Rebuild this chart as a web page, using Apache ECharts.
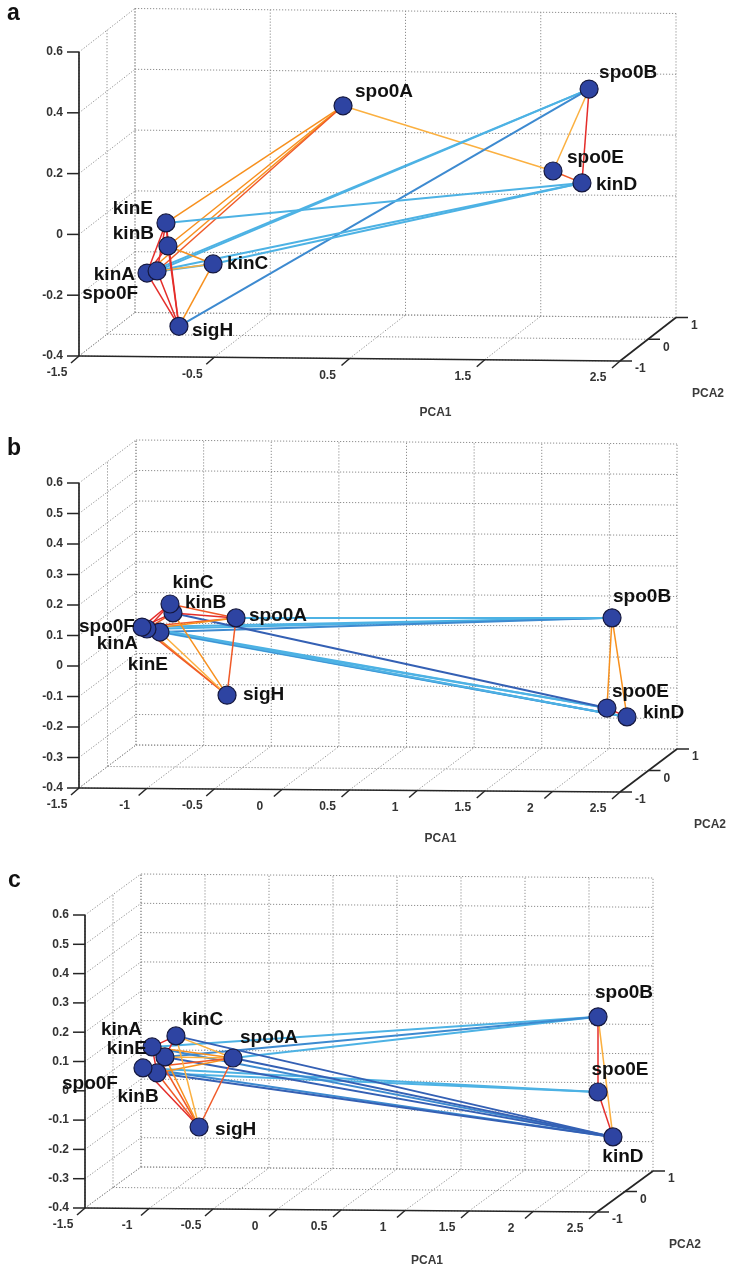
<!DOCTYPE html>
<html>
<head>
<meta charset="utf-8">
<script src="https://cdn.jsdelivr.net/npm/echarts@6/dist/echarts.min.js"></script>
<style>
html,body{margin:0;padding:0;background:#fff;}
#chart{width:730px;height:1270px;}
</style>
</head>
<body>
<div id="chart"></div>
<script>
// ---------------- DATA ----------------
const nodeNames = ['spo0A','spo0B','spo0E','kinD','kinE','kinB','kinA','spo0F','kinC','sigH'];

// panel a  (PCA1, PCA2, PCA3 per node, same order as nodeNames)
const pca1A = [0.183, 1.961, 1.839, 1.991, -1.064, -1.070, -1.163, -1.109, -0.757, -0.906];
const pca2A = [0.3, 0.5, -0.2, 0.1, 0.0, 0.1, -0.2, -0.1, 0.2, -0.3];
const pca3A = [0.337, 0.385, 0.165, 0.105, -0.032, -0.115, -0.183, -0.183, -0.180, -0.350];

// panel b
const pca1B = [-0.613, 2.125, 2.235, 2.320, -1.112, -1.037, -1.166, -1.224, -1.080, -0.553];
const pca2B = [0.3, 0.5, -0.2, 0.1, 0.0, 0.1, -0.2, -0.1, 0.2, -0.3];
const pca3B = [0.069, 0.064, -0.182, -0.232, 0.042, 0.098, 0.066, 0.065, 0.120, -0.142];

// panel c
const pca1C = [-0.628, 2.180, 2.333, 2.384, -1.094, -1.178, -1.151, -1.244, -1.052, -0.762];
const pca2C = [0.3, 0.5, -0.2, 0.1, 0.0, 0.1, -0.2, -0.1, 0.2, -0.3];
const pca3C = [0.024, 0.160, -0.047, -0.221, 0.047, -0.015, 0.095, 0.016, 0.105, -0.170];

// edges: [source, target, colour class 0..6 (red -> dark blue)]
const edgesA = [
  ['spo0A','kinE',2],['spo0A','kinB',2],['spo0A','kinA',2],['spo0A','spo0F',1],
  ['spo0A','spo0E',3],['spo0B','spo0E',3],['spo0B','kinD',0],['spo0E','kinD',1],
  ['spo0B','kinA',4],['spo0B','spo0F',4],['spo0B','sigH',5],
  ['kinD','kinE',4],['kinD','kinC',4],['kinD','kinA',4],
  ['kinA','kinC',4],['kinB','kinC',2],['spo0F','kinC',3],['sigH','kinC',2],
  ['kinE','kinA',0],['kinE','spo0F',0],['kinE','sigH',0],['kinB','sigH',0],
  ['kinA','sigH',0],['spo0F','sigH',0],['kinB','kinA',0],['kinE','kinB',0]
];
const edgesB = [
  ['spo0F','spo0B',4],['kinA','spo0B',4],['kinE','spo0B',5],['spo0A','spo0B',4],
  ['spo0F','spo0E',4],['kinA','spo0E',4],['kinE','kinD',4],['kinA','kinD',5],
  ['kinB','spo0E',6],['spo0F','kinD',4],
  ['spo0B','spo0E',2],['spo0B','kinD',2],['spo0E','kinD',0],
  ['spo0A','kinB',0],['spo0A','spo0F',1],['spo0A','kinA',2],['spo0A','kinC',1],['spo0A','sigH',1],
  ['sigH','kinA',2],['sigH','spo0F',1],['sigH','kinE',3],['sigH','kinB',2],
  ['kinC','spo0F',0],['kinB','spo0F',0],['kinC','kinA',0],['kinB','kinA',1]
];
const edgesC = [
  ['spo0A','spo0B',4],['kinA','spo0B',4],['kinE','spo0B',5],
  ['kinB','spo0E',4],['spo0F','spo0E',4],
  ['kinC','kinD',6],['kinA','kinD',5],['kinE','kinD',6],['spo0F','kinD',5],['kinB','kinD',6],['spo0A','kinD',6],
  ['spo0B','spo0E',0],['spo0E','kinD',0],['spo0B','kinD',3],
  ['spo0A','kinA',2],['spo0A','kinE',3],['spo0A','kinB',2],['spo0A','spo0F',1],['spo0A','kinC',3],['spo0A','sigH',1],
  ['sigH','kinA',1],['sigH','kinE',2],['sigH','spo0F',0],['sigH','kinB',1],['sigH','kinC',3],
  ['kinC','kinA',0],['kinC','kinE',0],['kinA','kinB',0]
];

// tick values / labels
const pca1TicksA = [-1.5, -0.5, 0.5, 1.5, 2.5];
const pca3TicksA = [-0.4, -0.2, 0, 0.2, 0.4, 0.6];
const pca1TicksBC = [-1.5, -1, -0.5, 0, 0.5, 1, 1.5, 2, 2.5];
const pca3TicksBC = [-0.4, -0.3, -0.2, -0.1, 0, 0.1, 0.2, 0.3, 0.4, 0.5, 0.6];
const pca2Ticks = [-1, 0, 1];
const panelLetters = ['a', 'b', 'c'];
const axisTitles = ['PCA1', 'PCA2'];

// ---------------- STYLE / LAYOUT ----------------
const palette = ['#e42d2a','#f05a28','#f7901e','#fbb040','#4db2e4','#3d8ad0','#3460b4'];
const tickFont = 'bold 12px "Liberation Sans", Arial, sans-serif';
const titleFont = 'bold 12px "Liberation Sans", Arial, sans-serif';
const nodeFont = 'bold 19px "Liberation Sans", Arial, sans-serif';
const letterFont = 'bold 23px "Liberation Sans", Arial, sans-serif';

const panels = [
  { letter: panelLetters[0], letterPos: [13, 15],
    view: { x0: 79, y0: 356, sx: 135.25, sz: 304, dx: 28, dy: 21.75, tilt: 1.25 },
    X: pca1A, Y: pca2A, Z: pca3A, edges: edgesA, xTicks: pca1TicksA, zTicks: pca3TicksA,
    pca1Off: [86, 54], pca2Off: [88, 33],
    labels: { spo0A:[12,-14,'left'], spo0B:[10,-16,'left'], spo0E:[14,-13,'left'], kinD:[14,2,'left'],
      kinE:[-13,-14,'right'], kinB:[-14,-12,'right'], kinA:[-12,2,'right'], spo0F:[-19,23,'right'],
      kinC:[14,0,'left'], sigH:[13,4,'left'] } },
  { letter: panelLetters[1], letterPos: [13, 450],
    view: { x0: 79, y0: 788, sx: 135.25, sz: 305, dx: 28.5, dy: 21.5, tilt: 1 },
    X: pca1B, Y: pca2B, Z: pca3B, edges: edgesB, xTicks: pca1TicksBC, zTicks: pca3TicksBC,
    pca1Off: [91, 49], pca2Off: [90, 33],
    labels: { kinC:[23,-21,'center'], kinB:[12,-10,'left'], spo0F:[-7,0,'right'], kinA:[-9,15,'right'],
      kinE:[8,33,'right'], spo0A:[13,-2,'left'], sigH:[16,0,'left'], spo0B:[1,-21,'left'],
      spo0E:[5,-16,'left'], kinD:[16,-4,'left'] } },
  { letter: panelLetters[2], letterPos: [14, 882],
    view: { x0: 85, y0: 1208, sx: 128, sz: 293, dx: 28, dy: 20.5, tilt: 1 },
    X: pca1C, Y: pca2C, Z: pca3C, edges: edgesC, xTicks: pca1TicksBC, zTicks: pca3TicksBC,
    pca1Off: [86, 51], pca2Off: [88, 33],
    labels: { kinA:[-10,-17,'right'], kinE:[-18,-8,'right'], spo0F:[-25,16,'right'], kinB:[-19,24,'center'],
      kinC:[6,-16,'left'], spo0A:[7,-20,'left'], sigH:[16,3,'left'], spo0B:[26,-24,'center'],
      spo0E:[22,-22,'center'], kinD:[10,20,'center'] } }
];

const AX_MIN = -1.5, AX_MAX = 3.0, AZ_MIN = -0.5, AZ_MAX = 0.76;

// ---------------- BUILD ----------------
const grids = [], xAxes = [], yAxes = [], series = [], graphics = [];

function segSeries(gi, segs, style, z) {
  return {
    type: 'custom', xAxisIndex: gi, yAxisIndex: gi, silent: true, z: z, clip: false,
    data: segs.map(s => s[0]),
    renderItem: function (params, api) {
      const s = segs[params.dataIndex];
      const a = api.coord(s[0]), b = api.coord(s[1]);
      return { type: 'line', shape: { x1: a[0], y1: a[1], x2: b[0], y2: b[1] }, style: style };
    }
  };
}
function tickSeries(gi, ticks, style, z) {
  return {
    type: 'custom', xAxisIndex: gi, yAxisIndex: gi, silent: true, z: z, clip: false,
    data: ticks.map(t => t[0]),
    renderItem: function (params, api) {
      const t = ticks[params.dataIndex];
      const a = api.coord(t[0]);
      return { type: 'line', shape: { x1: a[0], y1: a[1], x2: a[0] + t[1][0], y2: a[1] + t[1][1] }, style: style };
    }
  };
}
function textSeries(gi, texts, z) {
  return {
    type: 'custom', xAxisIndex: gi, yAxisIndex: gi, silent: true, z: z, clip: false,
    data: texts.map(t => t.at),
    renderItem: function (params, api) {
      const t = texts[params.dataIndex];
      const a = api.coord(t.at);
      return { type: 'text', x: a[0] + t.off[0], y: a[1] + t.off[1],
        style: { text: t.text, font: t.font, fill: t.fill, align: t.align, verticalAlign: 'middle' } };
    }
  };
}

panels.forEach((p, gi) => {
  const v = p.view;
  const kx = v.dx / v.sx, kz = v.dy / v.sz, tz = v.tilt / v.sz;
  const P = (X, Y, Z) => [X + (Y + 1) * kx, Z + (Y + 1) * kz - (X + 1.5) * tz];

  grids.push({ left: v.x0, top: v.y0 - (AZ_MAX - (-0.4)) * v.sz, width: (AX_MAX - AX_MIN) * v.sx,
    height: (AZ_MAX - AZ_MIN) * v.sz, containLabel: false });
  xAxes.push({ type: 'value', gridIndex: gi, min: AX_MIN, max: AX_MAX, show: false });
  yAxes.push({ type: 'value', gridIndex: gi, min: AZ_MIN, max: AZ_MAX, show: false });

  const xs = p.xTicks, zs = p.zTicks, ys = pca2Ticks;
  const xMin = xs[0], xMax = xs[xs.length - 1], zMin = zs[0], zMax = zs[zs.length - 1];
  const yMin = ys[0], yMax = ys[ys.length - 1];

  // dotted grid on back wall, left wall, floor
  const walls = [];
  xs.forEach(x => { walls.push([P(x, yMax, zMin), P(x, yMax, zMax)]); walls.push([P(x, yMin, zMin), P(x, yMax, zMin)]); });
  zs.forEach(z => { walls.push([P(xMin, yMax, z), P(xMax, yMax, z)]); walls.push([P(xMin, yMin, z), P(xMin, yMax, z)]); });
  ys.forEach(y => { walls.push([P(xMin, y, zMin), P(xMin, y, zMax)]); walls.push([P(xMin, y, zMin), P(xMax, y, zMin)]); });
  series.push(segSeries(gi, walls, { stroke: '#8f8f8f', lineWidth: 1, lineDash: [1.2, 1.8] }, 1));

  // solid axes
  const axes = [
    [P(xMin, yMin, zMin), P(xMin, yMin, zMax)],
    [P(xMin, yMin, zMin), P(xMax, yMin, zMin)],
    [P(xMax, yMin, zMin), P(xMax, yMax, zMin)]
  ];
  series.push(segSeries(gi, axes, { stroke: '#262626', lineWidth: 1.7 }, 2));

  const ticks = [];
  zs.forEach(z => ticks.push([P(xMin, yMin, z), [-12, 0]]));
  xs.forEach(x => ticks.push([P(x, yMin, zMin), [-8, 7]]));
  ys.forEach(y => ticks.push([P(xMax, y, zMin), [12, 0]]));
  series.push(tickSeries(gi, ticks, { stroke: '#262626', lineWidth: 1.5 }, 2));

  const texts = [];
  zs.forEach(z => texts.push({ at: P(xMin, yMin, z), off: [-16, 0], text: String(z), align: 'right', font: tickFont, fill: '#333' }));
  xs.forEach(x => texts.push({ at: P(x, yMin, zMin), off: [-22, 17], text: String(x), align: 'center', font: tickFont, fill: '#333' }));
  ys.forEach(y => texts.push({ at: P(xMax, y, zMin), off: [15, 8], text: String(y), align: 'left', font: tickFont, fill: '#333' }));
  texts.push({ at: P(0.5, yMin, zMin), off: p.pca1Off, text: axisTitles[0], align: 'center', font: titleFont, fill: '#3a3a3a' });
  texts.push({ at: P(xMax, yMin, zMin), off: p.pca2Off, text: axisTitles[1], align: 'center', font: titleFont, fill: '#3a3a3a' });

  // node positions
  const pos = {};
  nodeNames.forEach((n, i) => { pos[n] = P(p.X[i], p.Y[i], p.Z[i]); });

  // edges
  series.push({
    type: 'lines', coordinateSystem: 'cartesian2d', xAxisIndex: gi, yAxisIndex: gi, silent: true, z: 3,
    data: p.edges.map(e => ({
      coords: [pos[e[0]], pos[e[1]]],
      lineStyle: { color: palette[e[2]], width: e[2] >= 4 ? 2 : 1.5, opacity: 1, curveness: 0 }
    }))
  });

  // nodes
  series.push({
    type: 'scatter', xAxisIndex: gi, yAxisIndex: gi, silent: true, z: 4,
    symbol: 'circle', symbolSize: 18,
    itemStyle: { color: '#2e44a2', borderColor: '#15183f', borderWidth: 1.2, opacity: 1 },
    data: nodeNames.map(n => ({ name: n, value: pos[n] }))
  });

  // node labels
  nodeNames.forEach(n => {
    const l = p.labels[n];
    texts.push({ at: pos[n], off: [l[0], l[1]], text: n, align: l[2], font: nodeFont, fill: '#111' });
  });
  series.push(textSeries(gi, texts, 5));

  graphics.push({ type: 'text', left: p.letterPos[0] - 6, top: p.letterPos[1] - 13,
    style: { text: p.letter, font: letterFont, fill: '#111' } });
});

const chart = echarts.init(document.getElementById('chart'), null, { renderer: 'canvas' });
chart.setOption({
  animation: false,
  backgroundColor: '#ffffff',
  grid: grids, xAxis: xAxes, yAxis: yAxes,
  series: series,
  graphic: graphics
});
</script>
</body>
</html>
